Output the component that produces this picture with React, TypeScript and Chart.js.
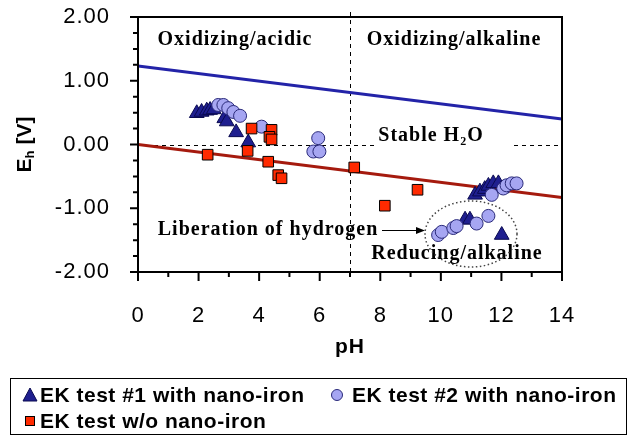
import React, { useEffect, useRef } from 'react';
import { Chart, registerables } from 'chart.js';

Chart.register(...registerables);

// Water stability lines
const phLine = [0, 14];
const upperEh = [1.23, 0.4];
const lowerEh = [0.0, -0.83];

// EK test #1 with nano-iron (triangles)
const test1Ph = [1.94, 2.1, 2.27, 2.38, 2.5, 2.85, 2.93, 3.24, 3.64, 11.13, 11.29, 11.45, 11.57, 11.73, 11.9, 12.01, 10.8, 10.96, 12.01];
const test1Eh = [0.49, 0.51, 0.53, 0.54, 0.55, 0.41, 0.36, 0.19, 0.03, -0.79, -0.74, -0.7, -0.65, -0.61, -0.61, -0.69, -1.18, -1.18, -1.42];

// EK test #2 with nano-iron (circles)
const test2Ph = [2.65, 2.82, 2.98, 3.15, 3.37, 4.08, 5.95, 5.79, 5.99, 11.68, 12.06, 12.17, 12.34, 12.5, 9.91, 10.03, 10.41, 10.52, 11.18, 11.57];
const test2Eh = [0.62, 0.62, 0.57, 0.51, 0.45, 0.28, 0.1, -0.11, -0.11, -0.79, -0.69, -0.64, -0.61, -0.61, -1.42, -1.37, -1.31, -1.28, -1.24, -1.12];

// EK test w/o nano-iron (squares)
const test3Ph = [3.75, 4.41, 4.34, 4.41, 3.62, 2.3, 4.3, 4.63, 4.74, 7.14, 9.23, 8.15];
const test3Eh = [0.25, 0.23, 0.12, 0.08, -0.1, -0.16, -0.27, -0.48, -0.53, -0.36, -0.71, -0.96];

const seriesNames = ['EK test #1 with nano-iron', 'EK test #2 with nano-iron', 'EK test w/o nano-iron'];
const xAxisTitle = 'pH';
const yAxisTitle = ['E', 'h', ' [V]'];
const regionTexts = ['Oxidizing/acidic', 'Oxidizing/alkaline', 'Stable H\u2082O', 'Liberation of hydrogen', 'Reducing/alkaline'];

const TRI_FILL = '#1f1f8f';
const TRI_EDGE = '#0a0a50';
const CIR_FILL = '#a6a6f2';
const CIR_EDGE = '#2a2a7a';
const SQ_FILL = '#ff2a00';
const SQ_EDGE = '#000000';

const SANS = '"Liberation Sans", Arial, sans-serif';
const SERIF = '"Liberation Serif", "Times New Roman", serif';

function pts(xs: number[], ys: number[]) {
  return xs.map((x, i) => ({ x, y: ys[i] }));
}

const decor = {
  id: 'decor',
  beforeDraw(chart: any) {
    (chart.ctx as any).letterSpacing = '1px';
  },
  beforeDatasetsDraw(chart: any) {
    const { ctx, chartArea: a, scales } = chart;
    const x = scales.x;
    const y = scales.y;
    ctx.save();
    (ctx as any).letterSpacing = '0px';
    ctx.strokeStyle = '#000';
    ctx.lineWidth = 1;
    ctx.setLineDash([4, 4]);
    const y0 = Math.round(y.getPixelForValue(0)) + 0.5;
    ctx.beginPath();
    ctx.moveTo(a.left, y0);
    ctx.lineTo(a.right, y0);
    ctx.stroke();
    const x7 = Math.round(x.getPixelForValue(7)) + 0.5;
    ctx.beginPath();
    ctx.moveTo(x7, a.top - 5);
    ctx.lineTo(x7, a.bottom);
    ctx.stroke();
    ctx.setLineDash([]);
    // white backing behind "Stable H2O"
    ctx.fillStyle = '#fff';
    ctx.fillRect(377, 124, 136, 24);
    ctx.restore();
  },
  afterDatasetsDraw(chart: any) {
    const { ctx } = chart;
    ctx.save();
    ctx.fillStyle = '#000';
    ctx.textAlign = 'center';
    ctx.textBaseline = 'middle';
    ctx.font = `bold 20px ${SERIF}`;
    (ctx as any).letterSpacing = '1px';
    ctx.fillText(regionTexts[0], 235, 40);
    ctx.fillText(regionTexts[1], 454, 40);
    ctx.fillText(regionTexts[2], 431, 136);
    ctx.fillText(regionTexts[3], 268, 230);
    ctx.fillText(regionTexts[4], 457, 254);
    // arrow
    ctx.strokeStyle = '#000';
    ctx.lineWidth = 1.2;
    ctx.beginPath();
    ctx.moveTo(382, 230.5);
    ctx.lineTo(420, 230.5);
    ctx.stroke();
    ctx.beginPath();
    ctx.moveTo(425, 230.5);
    ctx.lineTo(416, 227);
    ctx.lineTo(416, 234);
    ctx.closePath();
    ctx.fill();
    // dotted ellipse
    ctx.setLineDash([1.5, 2.5]);
    ctx.lineWidth = 1.5;
    ctx.strokeStyle = '#444';
    ctx.beginPath();
    ctx.ellipse(471, 234, 46, 33, 0, 0, Math.PI * 2);
    ctx.stroke();
    ctx.setLineDash([]);
    ctx.restore();
  },
  afterDraw(chart: any) {
    const { ctx, chartArea: a, scales } = chart;
    const x = scales.x;
    const y = scales.y;
    ctx.save();
    (ctx as any).letterSpacing = '0px';
    ctx.strokeStyle = '#000';
    ctx.lineWidth = 2;
    ctx.strokeRect(a.left, a.top, a.right - a.left, a.bottom - a.top);
    // tick marks
    ctx.beginPath();
    for (let v = 0; v <= 14; v += 1) {
      const px = x.getPixelForValue(v);
      const len = v % 2 === 0 ? 9 : 5;
      ctx.moveTo(px, a.bottom);
      ctx.lineTo(px, a.bottom + len);
    }
    for (let k = -8; k <= 8; k += 1) {
      const v = k * 0.25;
      const py = y.getPixelForValue(v);
      const len = k % 4 === 0 ? 8 : 5;
      ctx.moveTo(a.left - len, py);
      ctx.lineTo(a.left, py);
    }
    ctx.stroke();

    // y axis title with subscript
    ctx.fillStyle = '#000';
    ctx.save();
    ctx.translate(25, (a.top + a.bottom) / 2);
    ctx.rotate(-Math.PI / 2);
    ctx.textBaseline = 'middle';
    ctx.textAlign = 'left';
    const big = `bold 21px ${SANS}`;
    const small = `bold 13px ${SANS}`;
    ctx.font = big;
    const wE = ctx.measureText(yAxisTitle[0]).width;
    const wR = ctx.measureText(yAxisTitle[2]).width;
    ctx.font = small;
    const wh = ctx.measureText(yAxisTitle[1]).width;
    let sx = -(wE + wh + wR) / 2;
    ctx.font = big;
    ctx.fillText(yAxisTitle[0], sx, 0);
    sx += wE;
    ctx.font = small;
    ctx.fillText(yAxisTitle[1], sx, 5);
    sx += wh;
    ctx.font = big;
    ctx.fillText(yAxisTitle[2], sx, 0);
    ctx.restore();

    // legend
    ctx.lineWidth = 1;
    ctx.strokeStyle = '#000';
    ctx.strokeRect(10.5, 378.5, 616, 56);
    ctx.font = `bold 21px ${SANS}`;
    (ctx as any).letterSpacing = '0.5px';
    ctx.textAlign = 'left';
    ctx.textBaseline = 'middle';
    ctx.fillStyle = '#000';
    const r1 = 395;
    const r2 = 421;
    // triangle
    ctx.beginPath();
    ctx.moveTo(30, r1 - 7);
    ctx.lineTo(37, r1 + 6);
    ctx.lineTo(23, r1 + 6);
    ctx.closePath();
    ctx.fillStyle = TRI_FILL;
    ctx.fill();
    ctx.strokeStyle = TRI_EDGE;
    ctx.stroke();
    ctx.fillStyle = '#000';
    ctx.fillText(seriesNames[0], 40, r1 + 1);
    // circle
    ctx.beginPath();
    ctx.arc(337, r1, 5.5, 0, Math.PI * 2);
    ctx.fillStyle = CIR_FILL;
    ctx.fill();
    ctx.strokeStyle = CIR_EDGE;
    ctx.stroke();
    ctx.fillStyle = '#000';
    ctx.fillText(seriesNames[1], 352, r1 + 1);
    // square
    ctx.fillStyle = SQ_FILL;
    ctx.fillRect(25.5, r2 - 4.5, 9, 9);
    ctx.strokeStyle = SQ_EDGE;
    ctx.strokeRect(25.5, r2 - 4.5, 9, 9);
    ctx.fillStyle = '#000';
    ctx.fillText(seriesNames[2], 40, r2 + 1);
    ctx.restore();
    (ctx as any).letterSpacing = '0px';
  },
};

export default function App() {
  const ref = useRef<HTMLCanvasElement | null>(null);
  useEffect(() => {
    if (!ref.current) return;
    const chart = new Chart(ref.current, {
      type: 'scatter',
      data: {
        datasets: [
          {
            label: seriesNames[2],
            data: pts(test3Ph, test3Eh),
            pointStyle: 'rect',
            pointRadius: 7.5,
            backgroundColor: SQ_FILL,
            borderColor: SQ_EDGE,
            borderWidth: 1,
            order: 0,
          },
          {
            label: seriesNames[1],
            data: pts(test2Ph, test2Eh),
            pointStyle: 'circle',
            pointRadius: 6.5,
            backgroundColor: CIR_FILL,
            borderColor: CIR_EDGE,
            borderWidth: 1,
            order: 1,
          },
          {
            label: seriesNames[0],
            data: pts(test1Ph, test1Eh),
            pointStyle: 'triangle',
            pointRadius: 8.5,
            backgroundColor: TRI_FILL,
            borderColor: TRI_EDGE,
            borderWidth: 1,
            order: 2,
          },
          {
            label: 'upper',
            data: pts(phLine, upperEh),
            showLine: true,
            pointRadius: 0,
            borderColor: '#2323a8',
            borderWidth: 3,
            fill: false,
            order: 3,
          },
          {
            label: 'lower',
            data: pts(phLine, lowerEh),
            showLine: true,
            pointRadius: 0,
            borderColor: '#a51a0e',
            borderWidth: 3,
            fill: false,
            order: 3,
          },
        ],
      },
      options: {
        animation: false,
        responsive: false,
        events: [],
        layout: { padding: { left: 0, right: 69, top: 17, bottom: 79 } },
        plugins: { legend: { display: false }, tooltip: { enabled: false } },
        scales: {
          x: {
            type: 'linear',
            min: 0,
            max: 14,
            grid: {
              display: true,
              drawOnChartArea: false,
              drawTicks: true,
              tickLength: 31,
              color: 'rgba(0,0,0,0)',
            },
            border: { display: false },
            ticks: {
              stepSize: 2,
              autoSkip: false,
              maxRotation: 0,
              padding: 0,
              color: '#000',
              font: { family: SANS, size: 22 },
            },
            title: {
              display: true,
              text: xAxisTitle,
              color: '#000',
              padding: 0,
              font: { family: SANS, size: 21, weight: 'bold' },
            },
            afterFit: (s: any) => {
              s.height = 88;
            },
          },
          y: {
            type: 'linear',
            min: -2,
            max: 2,
            grid: {
              display: true,
              drawOnChartArea: false,
              drawTicks: true,
              tickLength: 28,
              color: 'rgba(0,0,0,0)',
            },
            border: { display: false },
            ticks: {
              stepSize: 1,
              padding: 0,
              color: '#000',
              font: { family: SANS, size: 22 },
              callback: (v: any) => Number(v).toFixed(2),
            },
            afterFit: (s: any) => {
              s.width = 138;
            },
          },
        },
      } as any,
      plugins: [decor as any],
    });
    return () => chart.destroy();
  }, []);
  return (
    <div style={{ position: 'fixed', left: 0, top: 0, width: 631, height: 439, background: '#fff' }}>
      <canvas ref={ref} width={631} height={439} />
    </div>
  );
}
